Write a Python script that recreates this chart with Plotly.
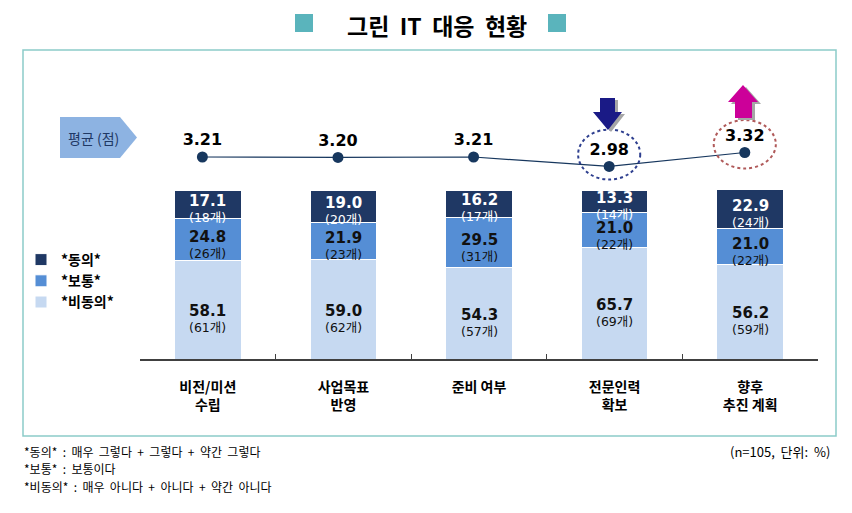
import plotly.graph_objects as go

# ---------------- data ----------------
categories = ["비전/미션<br>수립", "사업목표<br>반영", "준비 여부", "전문인력<br>확보", "향후<br>추진 계획"]
disagree = [58.1, 59.0, 54.3, 65.7, 56.2]
disagree_n = [61, 62, 57, 69, 59]
neutral = [24.8, 21.9, 29.5, 21.0, 21.0]
neutral_n = [26, 23, 31, 22, 22]
agree = [17.1, 19.0, 16.2, 13.3, 22.9]
agree_n = [18, 20, 17, 14, 24]
average = [3.21, 3.20, 3.21, 2.98, 3.32]
series_names = ["*비동의*", "*보통*", "*동의*"]

# page has an 8px body margin -> figure drawn at (8, 8)
PAD = 8
W, H = 852 - PAD, 513 - PAD
L, R, T, B = 140, 818, 60, 359  # plot area in page pixels


def X(px):
    return (px - L) / (R - L)


def Y(py):
    return (B - py) / (B - T)


def path(pts):
    return "M " + " L ".join(f"{X(a):.5f},{Y(b):.5f}" for a, b in pts) + " Z"


NUMF = "DejaVu Sans, Noto Sans CJK KR"
KRF = "Noto Sans CJK KR, DejaVu Sans"

fig = go.Figure()
series = [
    (disagree, disagree_n, series_names[0], "#c6d9f1", "#111111", 9),
    (neutral, neutral_n, series_names[1], "#558ed5", "#111111", 5),
    (agree, agree_n, series_names[2], "#1f3864", "#ffffff", 4),
]
annotations = []
base = [0.0] * len(categories)
for vals, ns, name, col, tcol, off in series:
    fig.add_trace(go.Bar(
        x=categories, y=vals, name=name, width=0.49,
        marker=dict(color=col, line=dict(color="white", width=1)),
        hoverinfo="skip",
    ))
    for i, (c, v, n) in enumerate(zip(categories, vals, ns)):
        mid = base[i] + v / 2
        annotations.append(dict(
            text=f"<span style='font-size:15px'><b>{v:.1f}</b></span><br>({n}개)",
            x=c, y=mid, xref="x", yref="y", yshift=-off, showarrow=False,
            font=dict(size=12.5, color=tcol, family=NUMF)))
        base[i] += v

fig.add_trace(go.Scatter(
    x=list(range(len(average))), y=average, xaxis="x2", yaxis="y2",
    mode="lines+markers+text",
    text=[f"<b>{v:.2f}</b>" for v in average], textposition="top center",
    textfont=dict(size=16, color="#000000", family=NUMF),
    marker=dict(size=11, color="#17375e"),
    line=dict(color="#17375e", width=1.2),
    showlegend=False, cliponaxis=False,
))

shapes = []
# outer border
shapes.append(dict(type="rect", xref="paper", yref="paper",
                   x0=X(23), x1=X(836), y0=Y(50), y1=Y(436),
                   line=dict(color="#8ccbc9", width=1.5), layer="below"))
# title squares
for x0 in (295, 548):
    shapes.append(dict(type="rect", xref="paper", yref="paper",
                       x0=X(x0), x1=X(x0 + 18), y0=Y(14), y1=Y(32),
                       fillcolor="#5ab4bc", line=dict(width=0)))
# badge
shapes.append(dict(type="path", xref="paper", yref="paper",
                   path=path([(60, 117), (120, 117), (137, 137.5), (120, 158), (60, 158)]),
                   fillcolor="#8db3e2", line=dict(width=0)))
# dotted ellipses around last two averages
for i, (cy_off, ry, col) in zip((3, 4), ((0.29, 0.61, "#2e3f8f"), (0.2, 0.59, "#b05a5a"))):
    shapes.append(dict(type="circle", xref="x2", yref="y2",
                       x0=i - 0.229, x1=i + 0.229,
                       y0=average[i] + cy_off - ry, y1=average[i] + cy_off + ry,
                       line=dict(color=col, width=2, dash="dot")))
# arrows (shadow + arrow)
down = [(600, 98), (615, 98), (615, 112), (622, 112), (608, 130), (593, 112), (600, 112)]
up = [(743, 85), (758, 102), (752, 102), (752, 118), (735, 118), (735, 102), (728, 102)]
for pts, col in ((down, "#1a1a86"), (up, "#cc0099")):
    shadow = [(a + 3, b + 2) for a, b in pts]
    shapes.append(dict(type="path", xref="paper", yref="paper", path=path(shadow),
                       fillcolor="#a6a6a6", line=dict(width=0)))
    shapes.append(dict(type="path", xref="paper", yref="paper", path=path(pts),
                       fillcolor=col, line=dict(width=0)))

sp = "\u00a0"
annotations += [
    dict(text=f"<b>그린{sp}{sp}IT{sp}{sp}대응{sp}{sp}현황</b>", xref="paper", yref="paper", x=X(437), y=Y(25),
         showarrow=False, font=dict(size=23, color="#000000", family=KRF),
         xanchor="center", yanchor="middle"),
    dict(text="평균 (점)", xref="paper", yref="paper", x=X(93), y=Y(137.5),
         showarrow=False, font=dict(size=14, color="#1f3864", family=KRF),
         xanchor="center", yanchor="middle"),
    dict(text="(n=105,  단위:  %)", xref="paper", yref="paper", x=X(832), y=Y(451),
         showarrow=False, font=dict(size=13, color="#000000", family=KRF),
         xanchor="right", yanchor="middle"),
]
footer = ["*동의*  :  매우  그렇다  +  그렇다  +  약간  그렇다",
          "*보통*  :  보통이다",
          "*비동의*  :  매우  아니다  +  아니다  +  약간  아니다"]
for txt, py in zip(footer, (451, 468, 486)):
    annotations.append(dict(text=txt, xref="paper", yref="paper", x=X(22), y=Y(py),
                            showarrow=False, font=dict(size=12, color="#000000", family=KRF),
                            xanchor="left", yanchor="middle"))

fig.update_layout(
    width=W, height=H,
    margin=dict(l=L - PAD, r=W - (R - PAD), t=T - PAD, b=H - (B - PAD), autoexpand=False),
    paper_bgcolor="white", plot_bgcolor="white",
    barmode="stack",
    showlegend=True,
    legend=dict(x=X(21), y=Y(244), xanchor="left", yanchor="top",
                traceorder="reversed", font=dict(size=14, color="#000000", family=KRF, weight="bold"),
                bgcolor="rgba(0,0,0,0)", itemwidth=30, tracegroupgap=0),
    xaxis=dict(type="category", showgrid=False, zeroline=False,
               showline=True, linecolor="#404040", linewidth=1.5,
               ticks="inside", ticklen=5, tickcolor="#404040", tickson="boundaries",
               tickfont=dict(size=14, color="#000000", family=KRF, weight="bold"),
               ticklabelstandoff=14, range=[-0.5, 4.5]),
    yaxis=dict(range=[0, 100 * (B - T) / (B - 190)], visible=False, fixedrange=True),
    xaxis2=dict(overlaying="x", range=[-0.46, 4.54], visible=False),
    yaxis2=dict(overlaying="y", range=[-1.717, 5.576], visible=False),
    shapes=shapes, annotations=annotations,
    font=dict(family=KRF),
)

fig.write_html("out.html")
